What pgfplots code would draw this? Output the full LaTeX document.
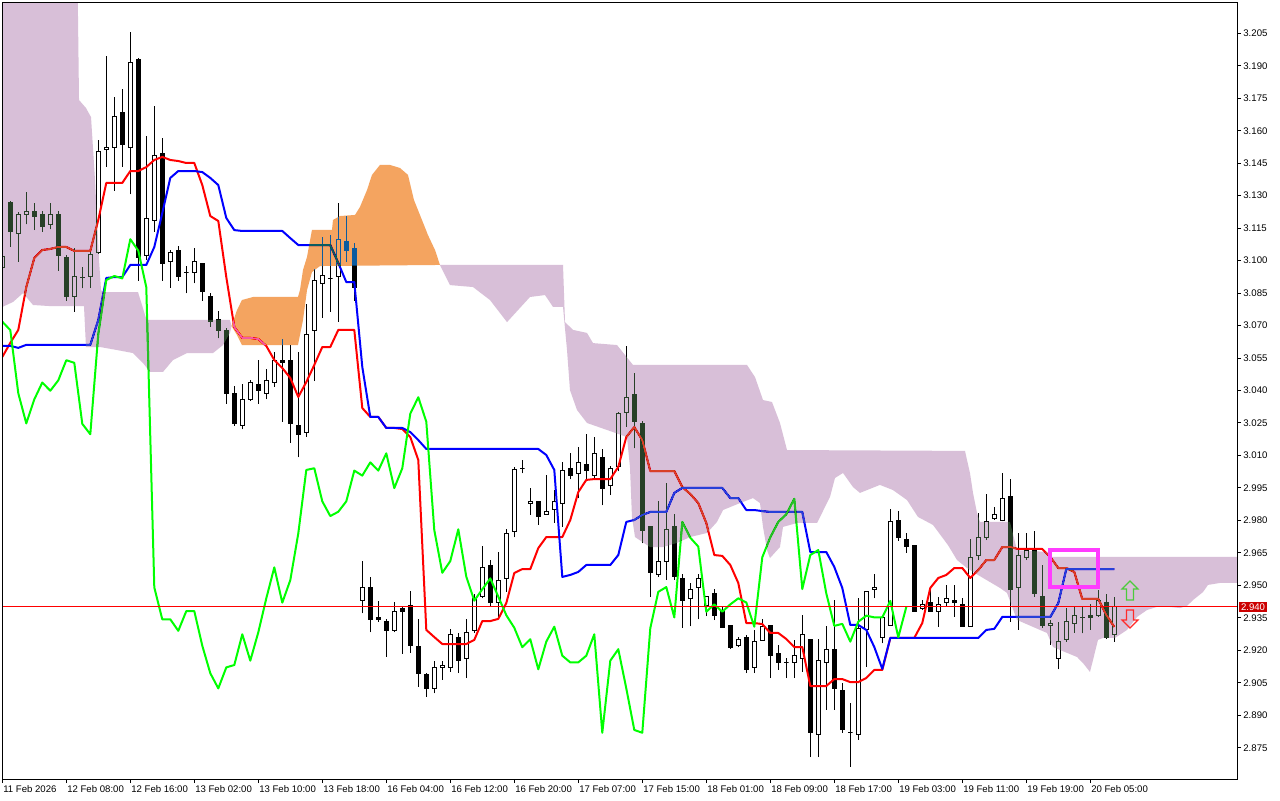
\documentclass[border=0pt]{standalone}
\usepackage{fontspec}
\setmainfont{Liberation Sans}
\usepackage{pgfplots}
\usepackage{pgfplotstable}
\pgfplotsset{compat=1.18}

\definecolor{thinv}{HTML}{274027}
\definecolor{orinv}{HTML}{0B5B9F}
\definecolor{mag}{HTML}{FF3CFF}
\definecolor{upg}{HTML}{4CCB3C}
\definecolor{dnr}{HTML}{FF2A2A}
\definecolor{pbox}{HTML}{CC0000}

\tikzset{
  bull/.style={draw=black, fill=white, line width=0.5pt},
  bear/.style={draw=black, fill=black, line width=0.5pt},
  wick/.style={black, line width=0.5pt},
  ind/.style={line width=1pt, line join=round},
}

% hourly candles: bar index, open, high, low, close
\pgfplotstableread{
i o h l c
0 3.0970 3.1030 3.0957 3.1017
1 3.1267 3.1275 3.1064 3.1133
2 3.1126 3.1224 3.0995 3.1214
3 3.1214 3.1315 3.1168 3.1228
4 3.1228 3.1266 3.1141 3.1203
5 3.1214 3.1231 3.1133 3.1156
6 3.1169 3.1266 3.1144 3.1214
7 3.1215 3.1229 3.0953 3.1023
8 3.1015 3.1026 3.0814 3.0833
9 3.0833 3.1057 3.0763 3.0927
10 3.0921 3.0969 3.0872 3.0921
11 3.0925 3.1041 3.0875 3.1026
12 3.1039 3.1556 3.1030 3.1505
13 3.1514 3.1945 3.1434 3.1523
14 3.1523 3.1754 3.1323 3.1666
15 3.1686 3.1795 3.1434 3.1535
16 3.1523 3.2055 3.1306 3.1916
17 3.1927 3.1936 3.0908 3.1015
18 3.1025 3.1576 3.1003 3.1195
19 3.1184 3.1713 3.1133 3.1486
20 3.1496 3.1566 3.0908 3.0986
21 3.0997 3.1049 3.0875 3.1039
22 3.1048 3.1068 3.0908 3.0927
23 3.0946 3.0976 3.0849 3.0946
24 3.0946 3.1057 3.0895 3.0997
25 3.0988 3.0989 3.0814 3.0856
26 3.0836 3.0851 3.0695 3.0718
27 3.0729 3.0769 3.0641 3.0679
28 3.0679 3.0688 3.0340 3.0387
29 3.0387 3.0420 3.0237 3.0248
30 3.0240 3.0430 3.0221 3.0359
31 3.0359 3.0448 3.0351 3.0437
32 3.0430 3.0540 3.0340 3.0399
33 3.0387 3.0499 3.0359 3.0447
34 3.0437 3.0576 3.0417 3.0540
35 3.0540 3.0636 3.0256 3.0528
36 3.0540 3.0610 3.0159 3.0246
37 3.0240 3.0576 3.0091 3.0198
38 3.0207 3.0799 3.0187 3.0661
39 3.0676 3.0960 3.0443 3.0910
40 3.0895 3.1111 3.0737 3.0929
41 3.0918 3.1119 3.0764 3.0918
42 3.0925 3.1268 3.0718 3.1099
43 3.1088 3.1204 3.0995 3.1046
44 3.1057 3.1080 3.0814 3.0877
45 2.9429 2.9612 2.9370 2.9490
46 2.9490 2.9540 2.9283 2.9343
47 2.9352 2.9429 2.9332 2.9343
48 2.9332 2.9343 2.9170 2.9290
49 2.9290 2.9421 2.9283 2.9381
50 2.9394 2.9405 2.9183 2.9381
51 2.9405 2.9473 2.9189 2.9221
52 2.9217 2.9343 2.9032 2.9094
53 2.9086 2.9096 2.8986 2.9024
54 2.9024 2.9152 2.9001 2.9121
55 2.9121 2.9152 2.9063 2.9132
56 2.9121 2.9297 2.9101 2.9274
57 2.9260 2.9281 2.9094 2.9152
58 2.9163 2.9343 2.9071 2.9283
59 2.9290 2.9460 2.9280 2.9440
60 2.9448 2.9682 2.9440 2.9583
61 2.9593 2.9617 2.9401 2.9420
62 2.9420 2.9652 2.9355 2.9524
63 2.9532 2.9759 2.9470 2.9740
64 2.9748 3.0045 2.9722 3.0033
65 3.0041 3.0079 3.0017 3.0041
66 2.9879 2.9950 2.9825 2.9888
67 2.9888 2.9888 2.9779 2.9820
68 2.9828 3.0010 2.9828 2.9840
69 2.9851 2.9940 2.9789 2.9888
70 2.9879 3.0071 2.9771 3.0030
71 3.0042 3.0110 2.9990 3.0007
72 3.0017 3.0138 2.9902 3.0068
73 3.0060 3.0199 2.9987 3.0030
74 3.0007 3.0187 2.9990 3.0110
75 3.0092 3.0132 2.9869 2.9949
76 2.9961 3.0052 2.9917 3.0041
77 3.0049 3.0303 3.0026 3.0293
78 3.0298 3.0604 3.0232 3.0369
79 3.0380 3.0479 3.0133 3.0256
80 3.0248 3.0259 2.9694 2.9755
81 2.9774 2.9774 2.9448 2.9558
82 2.9551 2.9890 2.9540 2.9612
83 2.9612 2.9971 2.9525 2.9759
84 2.9774 2.9830 2.9525 2.9540
85 2.9532 2.9551 2.9304 2.9429
86 2.9440 2.9509 2.9311 2.9482
87 2.9490 2.9551 2.9343 2.9532
88 2.9409 2.9451 2.9358 2.9448
89 2.9463 2.9482 2.9339 2.9362
90 2.9382 2.9401 2.9304 2.9304
91 2.9314 2.9314 2.9205 2.9214
92 2.9224 2.9263 2.9214 2.9251
93 2.9260 2.9271 2.9094 2.9112
94 2.9121 2.9294 2.9094 2.9240
95 2.9243 2.9343 2.9243 2.9309
96 2.9314 2.9314 2.9071 2.9175
97 2.9184 2.9224 2.9110 2.9144
98 2.9144 2.9164 2.9071 2.9144
99 2.9144 2.9248 2.9071 2.9175
100 2.9163 2.9362 2.9101 2.9274
101 2.9251 2.9251 2.8706 2.8819
102 2.8812 2.9251 2.8706 2.9152
103 2.9144 2.9313 2.8925 2.9205
104 2.9205 2.9430 2.8925 2.9024
105 2.9013 2.9047 2.8819 2.8832
106 2.8819 2.8955 2.8662 2.8819
107 2.8812 2.9440 2.8786 2.9302
108 2.9294 2.9470 2.9124 2.9470
109 2.9483 2.9551 2.9440 2.9492
110 2.9260 2.9352 2.9232 2.9352
111 2.9313 2.9851 2.9313 2.9793
112 2.9800 2.9843 2.9705 2.9720
113 2.9713 2.9741 2.9651 2.9679
114 2.9682 2.9682 2.9378 2.9378
115 2.9394 2.9432 2.9386 2.9412
116 2.9421 2.9478 2.9378 2.9378
117 2.9378 2.9447 2.9309 2.9412
118 2.9421 2.9501 2.9401 2.9440
119 2.9431 2.9501 2.9356 2.9421
120 2.9412 2.9440 2.9309 2.9309
121 2.9309 2.9714 2.9309 2.9630
122 2.9640 2.9833 2.9617 2.9722
123 2.9722 2.9922 2.9709 2.9793
124 2.9810 2.9863 2.9802 2.9828
125 2.9800 3.0020 2.9795 2.9900
126 2.9909 2.9990 2.9332 2.9483
127 2.9490 2.9741 2.9294 2.9640
128 2.9630 2.9741 2.9617 2.9663
129 2.9663 2.9751 2.9448 2.9463
130 2.9448 2.9594 2.9304 2.9313
131 2.9313 2.9340 2.9225 2.9322
132 2.9163 2.9332 2.9112 2.9240
133 2.9248 2.9394 2.9239 2.9332
134 2.9322 2.9406 2.9281 2.9360
135 2.9352 2.9401 2.9278 2.9352
136 2.9362 2.9414 2.9294 2.9352
137 2.9360 2.9478 2.9355 2.9428
138 2.9421 2.9460 2.9251 2.9260
139 2.9275 2.9445 2.9240 2.9400
}\ohlc

\begin{document}
\begin{tikzpicture}
\begin{axis}[
  scale only axis,
  width=617.5pt, height=388pt,
  xmin=-0.0375, xmax=154.34,
  ymin=2.86054, ymax=3.21901,
  axis background/.style={fill=white},
  axis on top,
  clip mode=individual,
  axis line style={line width=0.5pt},
  tick align=outside,
  major tick length=2pt,
  tick style={black, line width=0.5pt},
  xtick pos=bottom, ytick pos=right, yticklabel pos=right,
  tick label style={font=\fontsize{4.8}{5}\selectfont},
  xtick={0,8,16,24,32,40,48,56,64,72,80,88,96,104,112,120,128,136},
  xticklabels={11 Feb 2026,12 Feb 08:00,12 Feb 16:00,13 Feb 02:00,13 Feb 10:00,13 Feb 18:00,16 Feb 04:00,16 Feb 12:00,16 Feb 20:00,17 Feb 07:00,17 Feb 15:00,18 Feb 01:00,18 Feb 09:00,18 Feb 17:00,19 Feb 03:00,19 Feb 11:00,19 Feb 19:00,20 Feb 05:00},
  xticklabel style={anchor=north west, inner sep=0pt, xshift=0.3pt, yshift=-1.2pt},
  ytick={2.875,2.890,2.905,2.920,2.935,2.950,2.965,2.980,2.995,3.010,3.025,3.040,3.055,3.070,3.085,3.100,3.115,3.130,3.145,3.160,3.175,3.190,3.205},
  yticklabels={2.875,2.890,2.905,2.920,2.935,2.950,2.965,2.980,2.995,3.010,3.025,3.040,3.055,3.070,3.085,3.100,3.115,3.130,3.145,3.160,3.175,3.190,3.205},
  yticklabel style={anchor=west, inner sep=0pt, xshift=1pt},
]
\coordinate (sw) at (rel axis cs:0,0);
\coordinate (ne) at (rel axis cs:1,1);

% candles
\pgfplotsforeachungrouped \rr in {0,...,139}{%
  \pgfplotstablegetelem{\rr}{i}\of\ohlc \let\ci\pgfplotsretval
  \pgfplotstablegetelem{\rr}{o}\of\ohlc \let\co\pgfplotsretval
  \pgfplotstablegetelem{\rr}{h}\of\ohlc \let\ch\pgfplotsretval
  \pgfplotstablegetelem{\rr}{l}\of\ohlc \let\cl\pgfplotsretval
  \pgfplotstablegetelem{\rr}{c}\of\ohlc \let\cc\pgfplotsretval
  \pgfmathsetmacro\xa{\ci-0.28}%
  \pgfmathsetmacro\xb{\ci+0.28}%
  \ifdim\cc pt<\co pt \def\bs{bear}\else\def\bs{bull}\fi
  \edef\tmp{%
    \noexpand\addplot[wick] coordinates {(\ci,\cl) (\ci,\ch)};
    \noexpand\addplot[\bs] coordinates {(\xa,\co) (\xb,\co) (\xb,\cc) (\xa,\cc)} --cycle;
  }\tmp
}

% tenkan-sen
\addplot[ind, color=red] coordinates {
(0,3.0555)(1,3.0620)(2,3.0680)(3,3.0878)(4,3.1012)(5,3.1049)(6,3.1054)(7,3.1063)(8,3.1063)(9,3.1045)
(10,3.1045)(11,3.1045)(12,3.1188)(13,3.1359)(14,3.1359)(15,3.1359)(16,3.1414)(17,3.1414)(18,3.1432)(19,3.1465)
(20,3.1479)(21,3.1465)(22,3.1460)(23,3.1451)(24,3.1451)(25,3.1349)(26,3.1206)(27,3.1183)(28,3.0924)(29,3.0693)
(30,3.0643)(31,3.0643)(32,3.0638)(33,3.0606)(34,3.0541)(35,3.0504)(36,3.0458)(37,3.0370)(38,3.0439)(39,3.0518)
(40,3.0601)(41,3.0601)(42,3.0680)(43,3.0680)(44,3.0680)(45,3.0319)(46,3.0278)(47,3.0278)(48,3.0227)(49,3.0227)
(50,3.0222)(51,3.0185)(52,3.0079)(53,2.9294)(54,2.9261)(55,2.9229)(56,2.9229)(57,2.9229)(58,2.9229)(59,2.9248)
(60,2.9335)(61,2.9335)(62,2.9345)(63,2.9418)(64,2.9557)(65,2.9575)(66,2.9575)(67,2.9672)(68,2.9723)(69,2.9723)
(70,2.9723)(71,2.9802)(72,2.9931)(73,2.9987)(74,2.9991)(75,2.9991)(76,2.9991)(77,3.0047)(78,3.0185)(79,3.0231)
(80,3.0171)(81,3.0028)(82,3.0028)(83,3.0028)(84,3.0028)(85,2.9954)(86,2.9922)(87,2.9880)(88,2.9788)(89,2.9640)
(90,2.9636)(91,2.9594)(92,2.9511)(93,2.9326)(94,2.9326)(95,2.9321)(96,2.9280)(97,2.9280)(98,2.9252)(99,2.9215)
(100,2.9215)(101,2.9035)(102,2.9035)(103,2.9035)(104,2.9067)(105,2.9067)(106,2.9053)(107,2.9053)(108,2.9072)(109,2.9109)
(110,2.9109)(111,2.9257)(112,2.9257)(113,2.9257)(114,2.9257)(115,2.9326)(116,2.9488)(117,2.9534)(118,2.9548)(119,2.9580)
(120,2.9580)(121,2.9534)(122,2.9571)(123,2.9617)(124,2.9617)(125,2.9677)(126,2.9677)(127,2.9668)(128,2.9668)(129,2.9668)
(130,2.9668)(131,2.9631)(132,2.9580)(133,2.9580)(134,2.9562)(135,2.9437)(136,2.9437)(137,2.9437)(138,2.9363)(139,2.9308)
};

% kijun-sen
\addplot[ind, color=blue] coordinates {
(0,3.0606)(1,3.0606)(2,3.0597)(3,3.0611)(11,3.0611)(12,3.0726)(13,3.0920)(14,3.0924)(15,3.0924)(16,3.0980)
(18,3.0980)(19,3.1063)(20,3.1220)(21,3.1382)(22,3.1414)(24,3.1414)(25,3.1409)(26,3.1382)(27,3.1349)(28,3.1197)
(29,3.1141)(30,3.1137)(35,3.1137)(36,3.1104)(37,3.1072)(41,3.1072)(42,3.0989)(43,3.0901)(44,3.0901)(45,3.0509)
(46,3.0278)(47,3.0278)(48,3.0227)(50,3.0227)(51,3.0208)(52,3.0171)(53,3.0130)(67,3.0130)(68,3.0102)(69,3.0033)
(70,2.9539)(71,2.9548)(72,2.9562)(73,2.9594)(76,2.9594)(77,2.9640)(78,2.9793)(79,2.9802)(80,2.9825)(81,2.9839)
(83,2.9839)(84,2.9927)(85,2.9950)(90,2.9950)(91,2.9903)(92,2.9903)(93,2.9848)(94,2.9848)(95,2.9843)(96,2.9839)
(100,2.9839)(101,2.9654)(103,2.9654)(104,2.9585)(105,2.9488)(106,2.9317)(107,2.9317)(108,2.9294)(109,2.9215)(110,2.9114)
(111,2.9257)(122,2.9257)(123,2.9294)(124,2.9299)(125,2.9354)(131,2.9354)(132,2.9418)(133,2.9575)(139,2.9575)
};

% chikou span
\addplot[ind, color=green] coordinates {
(0,3.0718)(1,3.0679)(2,3.0387)(3,3.0248)(4,3.0359)(5,3.0437)(6,3.0399)(7,3.0447)(8,3.0540)(9,3.0528)
(10,3.0246)(11,3.0198)(12,3.0661)(13,3.0910)(14,3.0929)(15,3.0918)(16,3.1099)(17,3.1046)(18,3.0877)(19,2.9490)
(20,2.9343)(21,2.9343)(22,2.9290)(23,2.9381)(24,2.9381)(25,2.9221)(26,2.9094)(27,2.9024)(28,2.9121)(29,2.9132)
(30,2.9274)(31,2.9152)(32,2.9283)(33,2.9440)(34,2.9583)(35,2.9420)(36,2.9524)(37,2.9740)(38,3.0033)(39,3.0041)
(40,2.9888)(41,2.9820)(42,2.9840)(43,2.9888)(44,3.0030)(45,3.0007)(46,3.0068)(47,3.0030)(48,3.0110)(49,2.9949)
(50,3.0041)(51,3.0293)(52,3.0369)(53,3.0256)(54,2.9755)(55,2.9558)(56,2.9612)(57,2.9759)(58,2.9540)(59,2.9429)
(60,2.9482)(61,2.9532)(62,2.9448)(63,2.9362)(64,2.9304)(65,2.9214)(66,2.9251)(67,2.9112)(68,2.9240)(69,2.9309)
(70,2.9175)(71,2.9144)(72,2.9144)(73,2.9175)(74,2.9274)(75,2.8819)(76,2.9152)(77,2.9205)(78,2.9024)(79,2.8832)
(80,2.8819)(81,2.9302)(82,2.9470)(83,2.9492)(84,2.9352)(85,2.9793)(86,2.9720)(87,2.9679)(88,2.9378)(89,2.9412)
(90,2.9378)(91,2.9412)(92,2.9440)(93,2.9421)(94,2.9309)(95,2.9630)(96,2.9722)(97,2.9793)(98,2.9828)(99,2.9900)
(100,2.9483)(101,2.9640)(102,2.9663)(103,2.9463)(104,2.9313)(105,2.9322)(106,2.9240)(107,2.9332)(108,2.9360)(109,2.9352)
(110,2.9352)(111,2.9428)(112,2.9260)(113,2.9400)
};

% kumo (drawn in difference mode, as the terminal does)
\addplot[draw=none, fill=thinv, blend mode=difference] coordinates {
(-0.5,3.25)(9.34,3.25)(9.59,3.1742)(10.46,3.1705)(11.09,3.1663)(11.59,3.1372)(12.09,3.1003)(12.34,3.0864)
(12.59,3.0855)(16.96,3.0855)(17.96,3.0735)(18.21,3.0726)(28.46,3.0726)(28.65,3.0698)
(28.46,3.0666)(27.59,3.0610)(26.34,3.0573)(23.09,3.0573)(21.34,3.0541)(20.09,3.0486)(18.46,3.0486)(17.59,3.0527)
(16.34,3.0573)(14.34,3.0587)(12.21,3.0601)(10.46,3.0601)(10.21,3.0790)(5.96,3.0790)(3.84,3.0795)(2.59,3.0850)
(1.34,3.0809)(0,3.0786)(-0.5,3.0786)
} --cycle;

\addplot[draw=none, fill=orinv, blend mode=difference] coordinates {
(28.65,3.0698)(29.34,3.0772)(29.96,3.0818)(31.34,3.0832)(36.96,3.0832)(37.21,3.0864)(37.59,3.0957)(38.09,3.1017)
(38.71,3.1142)(41.21,3.1142)(41.34,3.1188)(42.21,3.1206)(44.09,3.1211)(44.71,3.1248)(45.59,3.1326)(46.21,3.1396)
(47.21,3.1442)(48.46,3.1442)(49.71,3.1428)(50.71,3.1396)(51.46,3.1280)(52.21,3.1211)(53.21,3.1118)(54.09,3.1049)
(54.71,3.0980)(39.71,3.0975)(38.71,3.0947)(38.09,3.0864)(37.59,3.0726)(36.96,3.0610)(29.96,3.0610)(29.34,3.0656)
} --cycle;

\addplot[draw=none, fill=thinv, blend mode=difference] coordinates {
(54.71,3.0980)(70.09,3.0980)(70.34,3.0716)(71.34,3.0680)(73.09,3.0666)(73.84,3.0619)(76.84,3.0610)(78.84,3.0518)
(93.09,3.0518)(94.09,3.0462)(95.09,3.0356)(96.21,3.0347)(97.21,3.0250)(98.09,3.0125)(120.34,3.0121)(120.59,3.0079)
(120.96,3.0019)(121.34,2.9927)(121.84,2.9834)(122.21,2.9793)(125.96,2.9793)(126.84,2.9663)(130.59,2.9654)(130.96,2.9631)
(155,2.9631)
(155,2.9511)(152.21,2.9511)(150.71,2.9502)(150.09,2.9469)(148.84,2.9432)(148.09,2.9405)(147.21,2.9395)(144.71,2.9405)
(143.09,2.9386)(141.84,2.9354)(140.59,2.9294)(139.09,2.9257)(137.59,2.9257)(136.96,2.9248)(136.34,2.9155)(135.96,2.9100)
(135.09,2.9141)(134.34,2.9169)(133.09,2.9188)(131.34,2.9215)(130.59,2.9280)(126.84,2.9340)(125.59,2.9465)(124.71,2.9488)
(121.96,2.9548)(120.59,2.9580)(119.34,2.9617)(118.21,2.9686)(116.34,2.9779)(114.46,2.9816)(113.09,2.9894)(111.34,2.9940)
(109.71,2.9964)(107.21,2.9927)(106.34,2.9954)(105.09,3.0019)(104.09,2.9996)(103.46,2.9908)(101.84,2.9788)(99.34,2.9788)
(97.59,2.9770)(97.21,2.9677)(95.96,2.9626)(95.59,2.9663)(95.09,2.9770)(94.71,2.9880)(93.84,2.9903)(92.21,2.9880)
(90.09,2.9848)(89.34,2.9793)(88.09,2.9742)(85.96,2.9723)(84.34,2.9696)(82.59,2.9677)(80.96,2.9677)(79.09,2.9723)
(78.71,2.9816)(78.46,3.0047)(78.09,3.0185)(76.34,3.0208)(73.09,3.0250)(71.84,3.0310)(70.96,3.0402)(70.59,3.0587)
(70.09,3.0786)(68.84,3.0786)(67.84,3.0841)(65.96,3.0832)(63.09,3.0716)(60.96,3.0818)(58.84,3.0878)(55.96,3.0887)
} --cycle;

% current price line
\addplot[red, line width=0.5pt] coordinates {(-1,2.940) (156,2.940)};

% marker box and arrows
\addplot[mag, line width=2pt, line join=miter] coordinates {(131,2.9662) (136.96,2.9662) (136.96,2.9492) (131,2.9492)} --cycle;
\addplot[upg, line width=0.6pt] coordinates {(140.96,2.9520) (141.96,2.9483) (141.40,2.9483) (141.40,2.9432) (140.53,2.9432) (140.53,2.9483) (139.96,2.9483)} --cycle;
\addplot[dnr, line width=0.6pt] coordinates {(140.96,2.9303) (141.96,2.9340) (141.40,2.9340) (141.40,2.9386) (140.53,2.9386) (140.53,2.9340) (139.96,2.9340)} --cycle;

\node[fill=pbox, text=white, anchor=west, inner xsep=1pt, inner ysep=0.6pt,
      font=\fontsize{4.8}{5}\selectfont, xshift=0.8pt] at (axis cs:154.34,2.940) {2.940};
\end{axis}
\pgfresetboundingbox
\path[use as bounding box] ([xshift=-1pt,yshift=-10.5pt]sw) rectangle ([xshift=21.5pt,yshift=1.5pt]ne);
\end{tikzpicture}
\end{document}
